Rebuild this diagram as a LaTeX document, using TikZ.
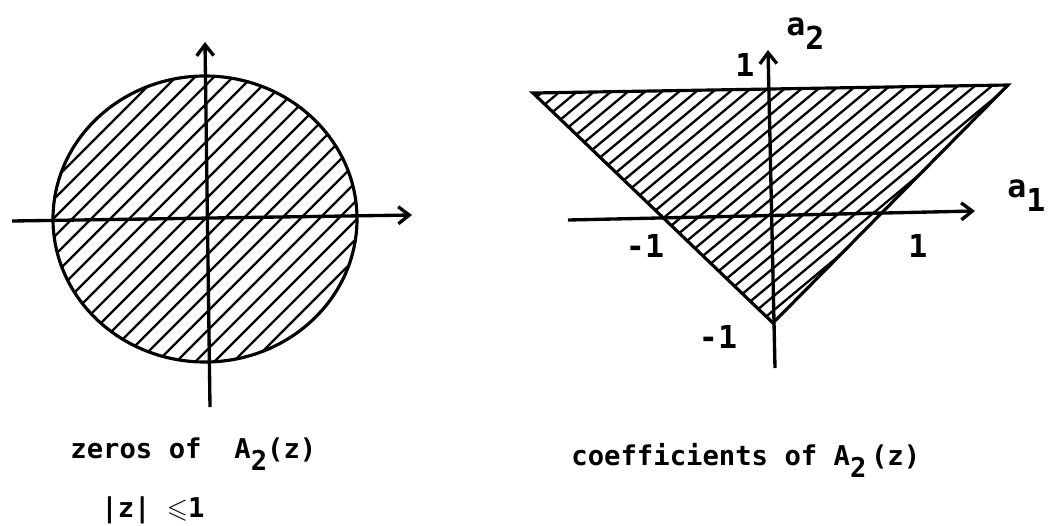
\documentclass[tikz,border=0pt]{standalone}
\usepackage{fontspec}
\usepackage{amssymb}
\setmainfont{DejaVu Sans Mono}
\usetikzlibrary{arrows.meta}
\tikzset{
  every picture/.style={line width=1.6pt},
  axis/.style={-{Straight Barb[length=2.2mm, width=3.4mm]}, line width=1.9pt},
  rim/.style={line width=1.8pt},
  hatch/.style={line width=1.3pt},
  lbl/.style={font=\fontsize{15.5}{18}\selectfont\bfseries, inner sep=0pt},
  tick/.style={font=\fontsize{18}{20}\selectfont\bfseries, inner sep=0pt},
}
\newcommand{\lowdigit}[1]{\raisebox{-0.45em}{#1}}

\begin{document}
\begin{tikzpicture}[x=0.02cm, y=-0.02cm]
  \useasboundingbox (0,0) rectangle (1051,525);
  % zeros: the disc |z| <= 1
  \coordinate (zc) at (205,219);
  \begin{scope}
    \clip (zc) ellipse [x radius=152, y radius=143];
    \foreach \k in {-17,...,17}
      \draw[hatch] (\k*19+35,389) -- ++(340,-340);
  \end{scope}
  \draw[rim] (zc) ellipse [x radius=152, y radius=143];
  \coordinate (zl) at (12,221); \coordinate (zr) at (412,215);
  \coordinate (zb) at (210,407); \coordinate (zt) at (205,42);
  \draw[axis] (zl) -- (zr);
  \draw[axis] (zb) -- (zt);
  % coefficients: the stability triangle
  \coordinate (tl) at (533,93); \coordinate (tr) at (1008,85); \coordinate (tb) at (773,323);
  \begin{scope}
    \clip (tl) -- (tr) -- (tb) -- cycle;
    \foreach \k in {-23,...,11}
      \draw[hatch] (\k*17+530,400) -- ++(480,-400);
  \end{scope}
  \draw[rim] (tl) -- (tr) -- (tb) -- cycle;
  \coordinate (al) at (568,220); \coordinate (ar) at (975,211);
  \coordinate (ab) at (775,368); \coordinate (at) at (768,50);
  \draw[axis] (al) -- (ar);
  \draw[axis] (ab) -- (at);
  % axis labels
  \node[tick, anchor=base west] (a2) at (785,35) {a\lowdigit{2}};
  \node[tick, anchor=base west] (a1) at (1006,197) {a\lowdigit{1}};
  \node[tick] (ytop) at (745,65) {1};
  \node[tick] (xneg) at (645,246) {-1};
  \node[tick] (xpos) at (918,246) {1};
  \node[tick] (yneg) at (718,337) {-1};
  % captions
  \node[lbl, anchor=base west] (zcap) at (69,458) {zeros of\ \ A\lowdigit{2}(z)};
  \node[lbl, anchor=base west] (zcond) at (100,517) {|z| $\leqslant$1};
  \node[lbl, anchor=base west] (ccap) at (570,465) {coefficients of A\lowdigit{2}\,(z)};
\end{tikzpicture}
\end{document}
